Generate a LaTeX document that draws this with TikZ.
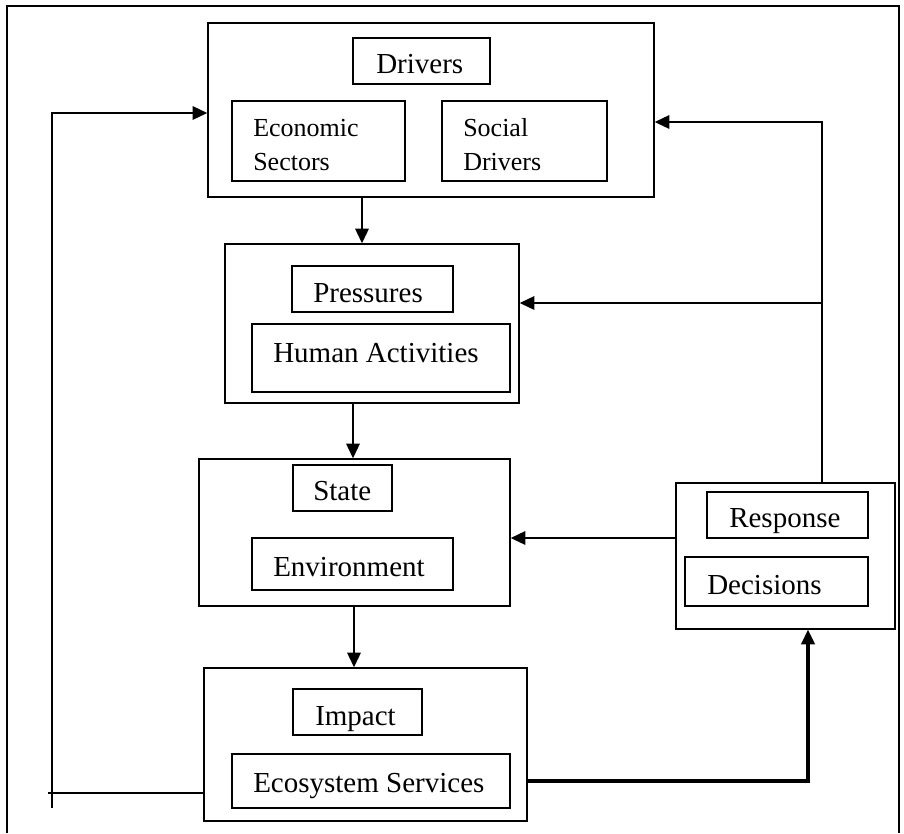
\documentclass[tikz,border=0pt]{standalone}
\usepackage{fontspec}
\setmainfont{Liberation Serif}
\usetikzlibrary{arrows,shapes,positioning}
\usetikzlibrary{arrows.meta}
\usetikzlibrary{fit}

\begin{document}
\begin{tikzpicture}[x=0.75pt,y=0.75pt,yscale=-1,xscale=1,
  box/.style={draw, line width=1pt, inner sep=0pt},
  line/.style={line width=1.3pt},
  arr/.style={line width=1.6pt, -{Triangle[length=11pt,width=10pt]}},
  txt/.style={inner sep=0pt, font=\fontsize{21.75}{26}\selectfont},
  smalltxt/.style={inner sep=0pt, align=left, font=\fontsize{19.5}{25.5}\selectfont}]
\useasboundingbox (0,0) rectangle (904,833);

%Frame
\draw [line width=1pt] (7,833) -- (7,6) -- (899,6) -- (899,833) ;

%Shape: Rectangle [Drivers]
\node [box, fit={(208,23) (654,197)}] (drivers) {};
\node [box, fit={(353,38) (490,84)}] (drvtitle) {};
\node [box, fit={(232,101) (405,181)}] (econ) {};
\node [box, fit={(442,101) (607,181)}] (social) {};
%Shape: Rectangle [Pressures]
\node [box, fit={(225,244) (519,403)}] (pressures) {};
\node [box, fit={(292,266) (453,312)}] (prstitle) {};
\node [box, fit={(252,324) (510,392)}] (human) {};
%Shape: Rectangle [State]
\node [box, fit={(199,459) (510,606)}] (state) {};
\node [box, fit={(293,465) (392,511)}] (sttitle) {};
\node [box, fit={(252,538) (453,590)}] (environ) {};
%Shape: Rectangle [Impact]
\node [box, fit={(204,668) (527,821)}] (impact) {};
\node [box, fit={(293,689) (422,735)}] (imptitle) {};
\node [box, fit={(232,754) (510,808)}] (ecosys) {};
%Shape: Rectangle [Response]
\node [box, fit={(676,483) (895,629)}] (response) {};
\node [box, fit={(707,492) (868,538)}] (rsptitle) {};
\node [box, fit={(685,557) (868,606)}] (decis) {};

% Text Node
\draw (376,73) node [anchor=base west] [txt] (tdrivers) {Drivers};
% Text Node
\draw (253,145) node [anchor=west] [smalltxt] (tecon) {Economic\\Sectors};
% Text Node
\draw (463,145) node [anchor=west] [smalltxt] (tsocial) {Social\\Drivers};
% Text Node
\draw (313,302) node [anchor=base west] [txt] (tpressures) {Pressures};
% Text Node
\draw (273,362) node [anchor=base west] [txt] (thuman) {Human Activities};
% Text Node
\draw (313,500) node [anchor=base west] [txt] (tstate) {State};
% Text Node
\draw (273,576) node [anchor=base west] [txt] (tenviron) {Environment};
% Text Node
\draw (315,725) node [anchor=base west] [txt] (timpact) {Impact};
% Text Node
\draw (253,792) node [anchor=base west] [txt] (tecosys) {Ecosystem Services};
% Text Node
\draw (729,527) node [anchor=base west] [txt] (tresponse) {Response};
% Text Node
\draw (707,594) node [anchor=base west] [txt] (tdecis) {Decisions};

%Straight Lines [down the chain]
\coordinate (dp) at (362,0);
\coordinate (ps) at (353,0);
\coordinate (si) at (354,0);
\draw [arr] (dp |- drivers.south) -- (dp |- pressures.north) ;
\draw [arr] (ps |- pressures.south) -- (ps |- state.north) ;
\draw [arr] (si |- state.south) -- (si |- impact.north) ;

%Straight Lines [feedback, left]
\coordinate (lf) at (52,793);
\draw [line] ([xshift=-3pt]lf) -- (impact.west |- lf) ;
\draw [arr] ([yshift=11pt]lf) -- (lf |- 0,113) -- (drivers.west |- 0,113) ;

%Straight Lines [feedback, right]
\coordinate (rf) at (822,122);
\coordinate (rp) at (822,303);
\coordinate (rs) at (676,538);
\draw [arr] (rf |- response.north) -- (rf) -- (drivers.east |- rf) ;
\draw [arr] (rp) -- (pressures.east |- rp) ;
\draw [arr] (response.west |- rs) -- (state.east |- rs) ;

%Straight Lines [impact to response]
\coordinate (er) at (808,781);
\draw [arr, line width=2.4pt] (impact.east |- er) -- (er) -- (er |- response.south) ;

\end{tikzpicture}
\end{document}
